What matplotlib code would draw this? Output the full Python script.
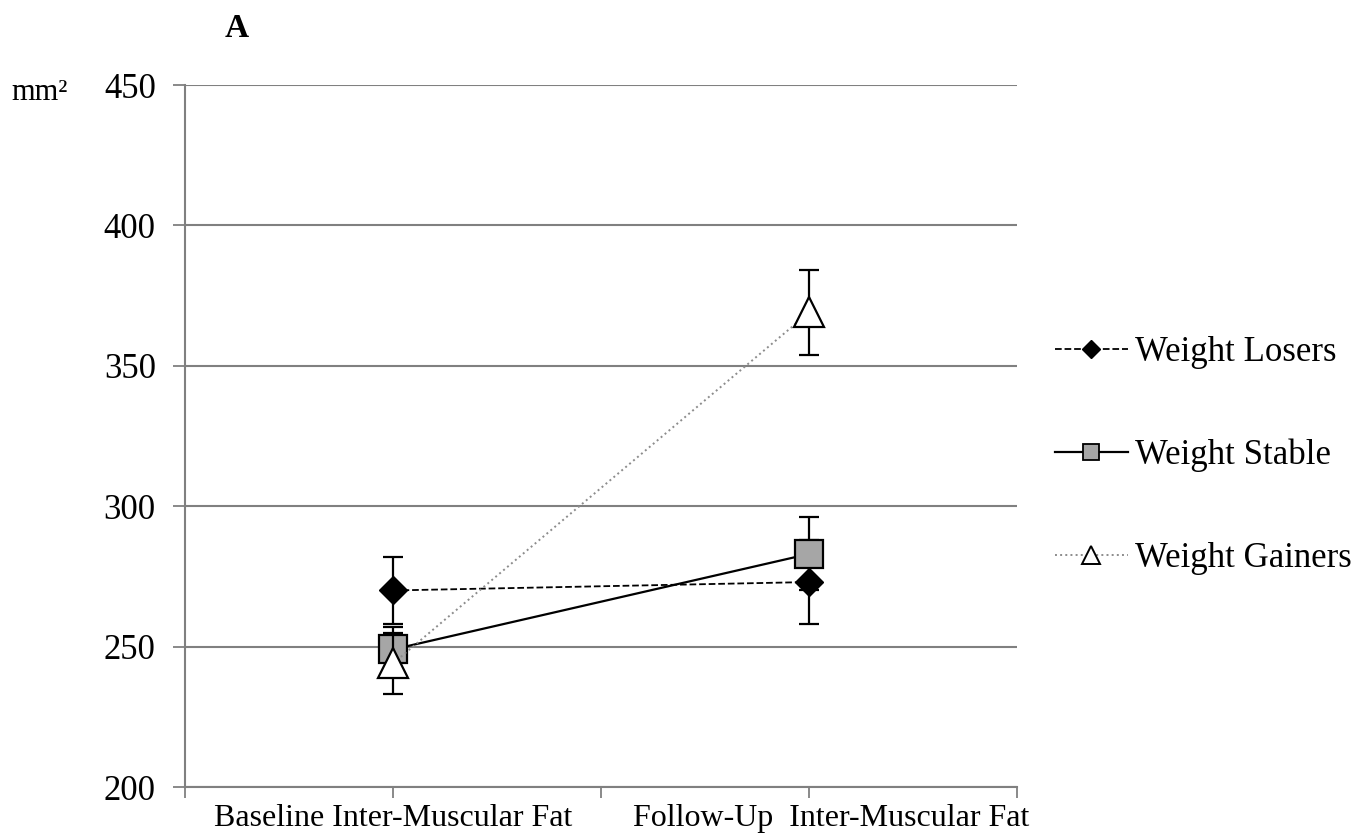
import numpy as np
import matplotlib.pyplot as plt
from matplotlib.lines import Line2D
from matplotlib.transforms import ScaledTranslation

plt.rcParams['font.family'] = ['Liberation Serif', 'DejaVu Serif']

# data (mm^2)
categories = ["Baseline Inter-Muscular Fat", "Follow-Up  Inter-Muscular Fat"]
losers = [270, 273]
losers_err = [12, 15]
stable = [249, 283]
stable_err = [8, 13]
gainers = [244, 369]
gainers_err = [11, 15]

x = np.arange(len(categories))

fig = plt.figure(figsize=(13.69, 8.33), dpi=100)
ax = fig.add_axes([0.1351, 0.0552, 0.6078, 0.8427])

ax.errorbar(x, losers, yerr=losers_err, color='black', ls='--', lw=1.3,
            marker='D', ms=14, mfc='black', mec='black',
            ecolor='black', elinewidth=1.6, capsize=7, capthick=1.6, zorder=3)
ax.errorbar(x, stable, yerr=stable_err, color='black', ls='-', lw=1.6,
            marker='s', ms=20, mfc='#a6a6a6', mec='black', mew=1.6,
            ecolor='black', elinewidth=1.6, capsize=7, capthick=1.6, zorder=4)
ax.errorbar(x, gainers, yerr=gainers_err, color='#8c8c8c', ls=':', lw=1.4,
            marker='^', ms=21, mfc='white', mec='black', mew=1.6,
            ecolor='black', elinewidth=1.6, capsize=7, capthick=1.6, zorder=5)

ax.set_xlim(-0.5, 1.5)
ax.set_ylim(200, 450)
ax.set_yticks(np.arange(200, 451, 50))
ax.set_xticks(x)
ax.set_xticklabels(categories, fontsize=23)
ax.set_xticks([-0.5, 0.5, 1.5], minor=True)
ax.tick_params(axis='x', which='both', length=8, color='#808080', width=1.3,
               direction='out', pad=4)
ax.tick_params(axis='y', labelsize=25, length=9, color='#808080', width=1.3, pad=12)

# the second category label sits a bit right of its tick in the original
lab = ax.get_xticklabels()[1]
lab.set_transform(lab.get_transform() + ScaledTranslation(0.22, 0, fig.dpi_scale_trans))

ax.grid(axis='y', color='#808080', lw=1.5)
ax.set_axisbelow(True)
for s in ['top', 'right']:
    ax.spines[s].set_visible(False)
for s in ['left', 'bottom']:
    ax.spines[s].set_color('#808080')
    ax.spines[s].set_linewidth(1.5)

fig.text(0.008, 0.889, 'mm²', fontsize=22, va='center')
fig.text(0.164, 0.966, 'A', fontsize=24, fontweight='bold', va='center')

handles = [
    Line2D([], [], color='black', ls='--', lw=1.3, marker='D', ms=9, mfc='black', mec='black'),
    Line2D([], [], color='black', ls='-', lw=1.6, marker='s', ms=11, mfc='#a6a6a6', mec='black', mew=1.3),
    Line2D([], [], color='#8c8c8c', ls=':', lw=1.4, marker='^', ms=13, mfc='white', mec='black', mew=1.4),
]
ax.legend(handles, ['Weight Losers', 'Weight Stable', 'Weight Gainers'],
          loc='center left', bbox_to_anchor=(0.7706, 0.453), bbox_transform=fig.transFigure,
          frameon=False, fontsize=25, labelspacing=2.0, handlelength=2.1,
          handletextpad=0.2, borderpad=0, borderaxespad=0)

fig.savefig('out.png', dpi=100)
